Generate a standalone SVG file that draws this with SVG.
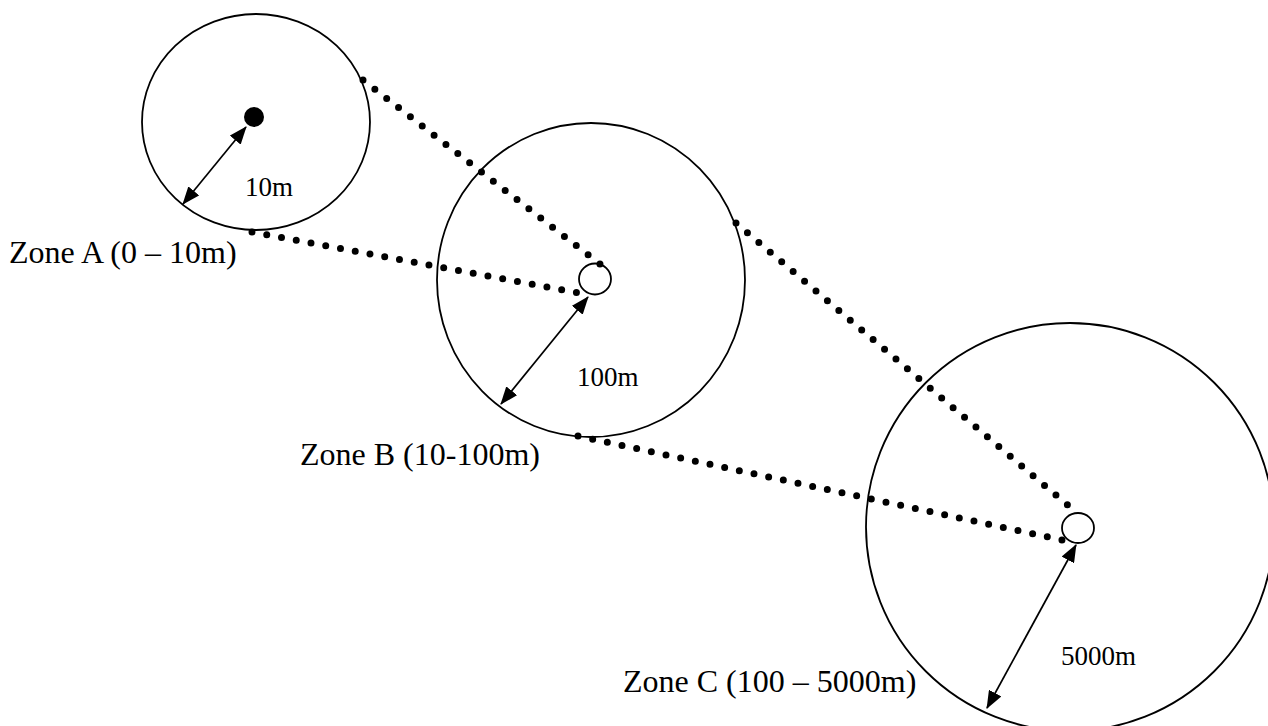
<svg xmlns="http://www.w3.org/2000/svg" width="1268" height="726" viewBox="0 0 1268 726">
<style>
.ring{fill:none;stroke:#000;stroke-width:1.8}
.dots{fill:none;stroke:#000;stroke-width:7;stroke-linecap:round;stroke-dasharray:0 15}
.arr{fill:none;stroke:#000;stroke-width:1.7;marker-start:url(#ah);marker-end:url(#ah)}
.lbl{font-family:"Liberation Serif","Times New Roman",serif;fill:#000}
.zone{font-size:32px}
.dist{font-size:27px}
</style>
<defs>
<marker id="ah" markerUnits="userSpaceOnUse" viewBox="0 0 18 14" refX="17" refY="7" markerWidth="18" markerHeight="14" orient="auto-start-reverse">
<path d="M0,0 L18,7 L0,14 z" fill="#000"/>
</marker>
</defs>
<rect width="1268" height="726" fill="#fff"/>
<g id="connectors">
<line class="dots" x1="363" y1="80" x2="600" y2="264"/>
<line class="dots" x1="252" y1="232" x2="590" y2="295"/>
<line class="dots" x1="736" y1="223" x2="1077" y2="513"/>
<line class="dots" x1="578" y1="436" x2="1076" y2="543"/>
<line class="arr" x1="246" y1="127" x2="183" y2="204"/>
<line class="arr" x1="588" y1="297" x2="501" y2="404"/>
<line class="arr" x1="1076" y1="545" x2="987" y2="708"/>
</g>
<g id="zoneA">
<ellipse class="ring" cx="256" cy="122" rx="114" ry="108"/>
<circle cx="254" cy="117" r="10" fill="#000"/>
<text class="lbl dist" x="245" y="196">10m</text>
<text class="lbl zone" x="9" y="263">Zone A (0 – 10m)</text>
</g>
<g id="zoneB">
<ellipse class="ring" cx="591" cy="280" rx="154" ry="157"/>
<ellipse class="ring" cx="595" cy="279" rx="16" ry="15.5"/>
<text class="lbl dist" x="577" y="386">100m</text>
<text class="lbl zone" x="300" y="465">Zone B (10-100m)</text>
</g>
<g id="zoneC">
<circle class="ring" cx="1070" cy="527" r="204"/>
<ellipse class="ring" cx="1078" cy="528" rx="16" ry="15"/>
<text class="lbl dist" x="1061" y="665">5000m</text>
<text class="lbl zone" x="623" y="692">Zone C (100 – 5000m)</text>
</g>
</svg>
